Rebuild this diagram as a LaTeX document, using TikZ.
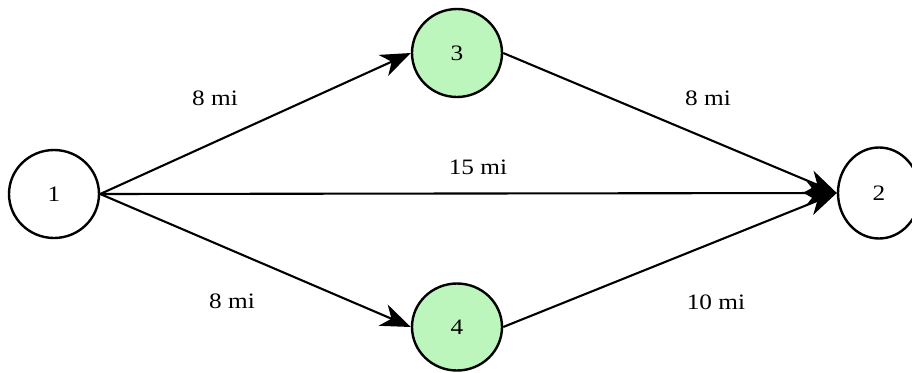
\documentclass[tikz,border=0pt]{standalone}
\usepackage{fontspec}
\setmainfont{Liberation Serif}[FakeStretch=1.15]
\usetikzlibrary{arrows.meta,shapes.geometric}
\definecolor{nodegreen}{RGB}{188,246,188}
\tikzset{
  vertex/.style={draw=black, line width=2.4pt, ellipse, minimum width=90pt, minimum height=88pt, inner sep=0pt, font=\fontsize{22}{24}\selectfont},
  greenv/.style={vertex, fill=nodegreen},
  edge/.style={line width=2.1pt, -{Stealth[length=30pt,width=23pt,inset=9pt]}},
  lbl/.style={font=\fontsize{22}{24}\selectfont, inner sep=0pt}
}
\begin{document}
\begin{tikzpicture}[x=1pt,y=-1pt]
\useasboundingbox (0,0) rectangle (912,372);
\clip (0,0) rectangle (912,372);
\fill[white] (0,0) rectangle (912,372);
\node[vertex] (n1) at (54,194) {1};
\node[greenv] (n3) at (457,53) {3};
\node[greenv, minimum height=87pt] (n4) at (457,327) {4};
\node[vertex, minimum width=82pt, minimum height=91pt] (n2) at (879,193) {2};
\draw[edge] (n1.east) -- (n3.west);
\draw[edge] (n1.east) -- (n4.west);
\draw[edge] (n1.east) -- (n2.west);
\draw[edge] (n3.east) -- (n2.west);
\draw[edge] (n4.east) -- (n2.west);
\node[lbl] (l13) at (215,98) {8 mi};
\node[lbl] (l14) at (232,301) {8 mi};
\node[lbl] (l12) at (478,167) {15 mi};
\node[lbl] (l32) at (708,98) {8 mi};
\node[lbl] (l42) at (716,302) {10 mi};
\end{tikzpicture}
\end{document}
